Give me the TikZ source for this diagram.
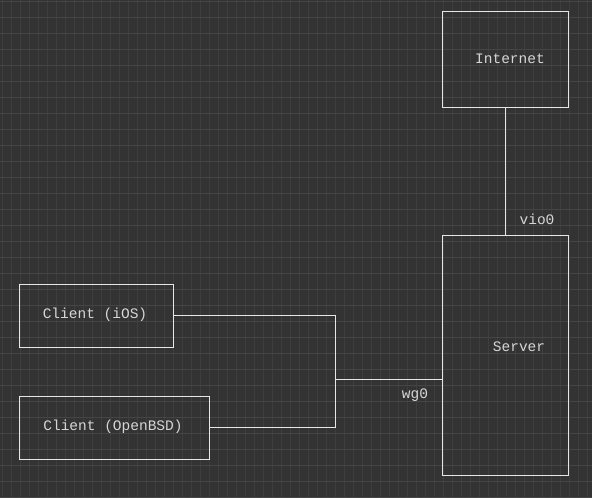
\documentclass[tikz,border=0pt]{standalone}
\usepackage{fontspec}
\setmonofont{Liberation Mono}
\definecolor{bg}{HTML}{333333}
\definecolor{gridv}{HTML}{3E3E3E}
\definecolor{gridh}{HTML}{454545}
\definecolor{ink}{HTML}{E6E6E6}
\definecolor{txt}{HTML}{D6D6D6}
\begin{document}
\begin{tikzpicture}[x=1pt,y=-1pt,
  box/.style={draw=ink,line width=1pt,rectangle,inner sep=0pt},
  lbl/.style={text=txt,font=\ttfamily\fontsize{14.5}{16}\selectfont,inner sep=0pt},
  wire/.style={draw=ink,line width=1pt}]
\fill[bg] (0,0) rectangle (592,498);
\useasboundingbox (0,0) rectangle (592,498);
\foreach \i in {0,...,65} {\draw[gridv,line width=1pt] ({2+9*\i},0) -- ({2+9*\i},498);}
\foreach \j in {0,...,31} {\draw[gridh,line width=1pt] (0,{1+16*\j}) -- (592,{1+16*\j});}
% boxes
\node[box,minimum width=126pt,minimum height=96pt] (internet) at (505,59) {};
\node[box,minimum width=126pt,minimum height=240pt] (server) at (505,355) {};
\node[box,minimum width=154pt,minimum height=63pt] (ios) at (96,315.5) {};
\node[box,minimum width=190pt,minimum height=63pt] (bsd) at (114,427.5) {};
% texts
\node[lbl] (tinternet) at (510,59) {Internet};
\node[lbl] (tserver) at (519,347) {Server};
\node[lbl] (tios) at (95,315) {Client (iOS)};
\node[lbl] (tbsd) at (113,427) {Client (OpenBSD)};
\node[lbl] (vio) at (537,219) {vio0};
\node[lbl] (wg) at (415,395) {wg0};
% connectors
\coordinate (j) at (335,379.5);
\draw[wire] (internet.south) -- (server.north);
\draw[wire] (ios.east) -| (j);
\draw[wire] (bsd.east) -| (j);
\draw[wire] (j) -- (j -| server.west);
\end{tikzpicture}
\end{document}
